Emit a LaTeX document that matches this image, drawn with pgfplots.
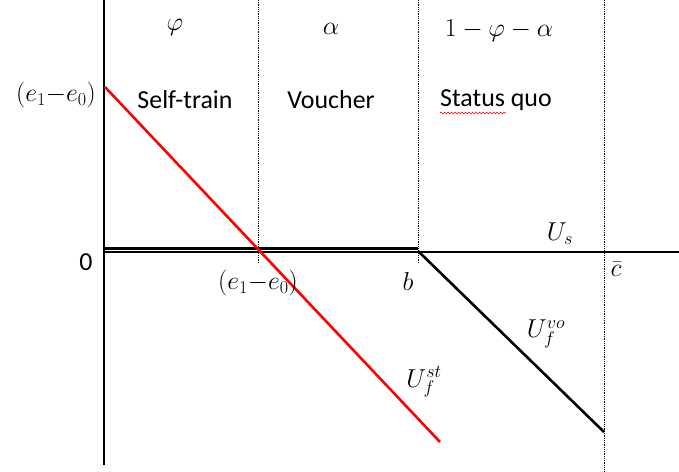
\documentclass[border=0pt]{standalone}
\usepackage{fix-cm}
\usepackage{pgfplots}
\pgfplotsset{compat=1.18}
\usepackage{fontspec}
\setmainfont{Carlito}
\usetikzlibrary{decorations.pathmorphing}

\begin{document}
\begin{tikzpicture}[font=\fontsize{26}{30}\selectfont,
    m/.style={font=\fontsize{26}{30}\selectfont, inner sep=1pt}]
\begin{axis}[
    scale only axis, width=679bp, height=472bp,
    xmin=0, xmax=679, ymin=0, ymax=472,
    hide axis, clip=false,
]
% axes
\addplot[black, line width=1.3bp] coordinates {(104,472) (104,7)};
\addplot[black, line width=1.3bp] coordinates {(104,220) (679,220)};
% dotted region borders
\addplot[black, densely dotted, line width=0.8bp] coordinates {(258,472) (258,208)};
\addplot[black, densely dotted, line width=0.8bp] coordinates {(418,472) (418,208)};
\addplot[black, densely dotted, line width=0.8bp] coordinates {(604,472) (604,0)};
% U_s and U_f^vo
\addplot[black, line width=2.8bp] coordinates {(104,223.3) (418,223.3)};
\addplot[black, line width=2.6bp] coordinates {(418,221) (604,40)};
% U_f^st
\addplot[red, line width=2.6bp] coordinates {(105,385) (440,30)};

% shares
\node[m] at (axis cs:175,445) {$\varphi$};
\node[m] at (axis cs:331,443) {$\alpha$};
\node[m] at (axis cs:499,441) {$1-\varphi-\alpha$};
% regimes
\node at (axis cs:185,372) {Self-train};
\node at (axis cs:331,372) {Voucher};
\node at (axis cs:496,372) {Status quo};
\draw[red, line width=0.6bp, decorate, decoration={snake, amplitude=0.9bp, segment length=3.5bp}]
    (axis cs:440,359) -- (axis cs:506,359);
% axis labels
\node[m] at (axis cs:56,377) {$(e_1{-}e_0)$};
\node at (axis cs:86,210) {0};
\node[m] at (axis cs:258,189) {$(e_1{-}e_0)$};
\node[m] at (axis cs:408,190) {$b$};
\node[m] at (axis cs:616,203) {$\bar{c}$};
% curve labels
\node[m] at (axis cs:560,238) {$U_s$};
\node[m] at (axis cs:546,138) {$U_f^{vo}$};
\node[m] at (axis cs:424,90) {$U_f^{st}$};
\coordinate (ll) at (axis cs:0,0);
\coordinate (ur) at (axis cs:679,472);
\end{axis}
\pgfresetboundingbox
\useasboundingbox (ll) rectangle (ur);
\end{tikzpicture}
\end{document}
